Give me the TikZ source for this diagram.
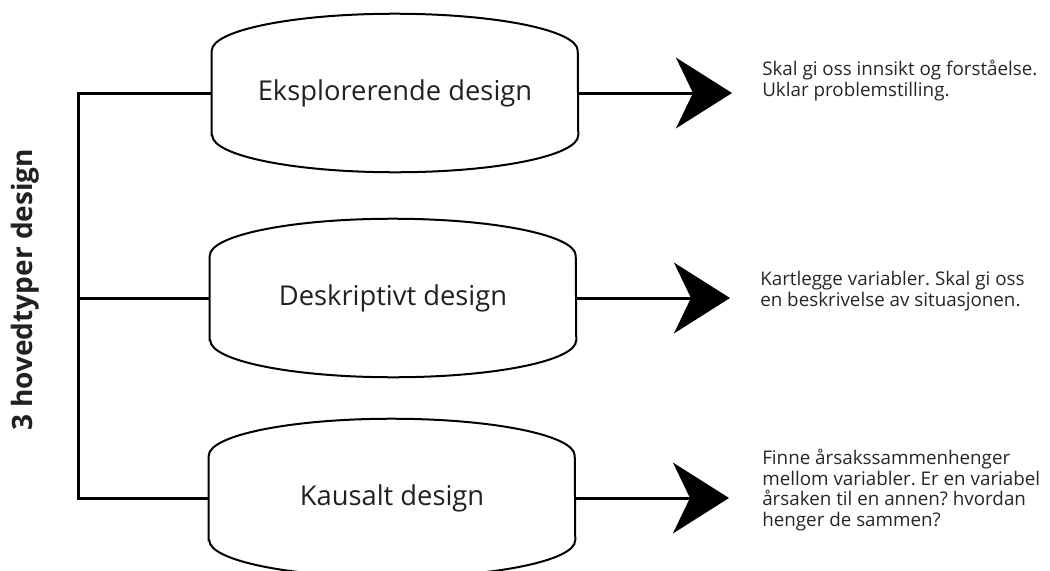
\documentclass[tikz,border=0pt]{standalone}
\usepackage{fontspec}
\setmainfont{Open Sans}
\frenchspacing
\usetikzlibrary{arrows.meta}
\begin{document}
\begin{tikzpicture}[x=0.75pt,y=-0.75pt,
  design/.style={minimum width=274.5pt, minimum height=63pt, inner sep=0pt,
    font=\fontsize{20.5}{24}\selectfont, text=black!87},
  outline/.style={line width=1.5pt},
  link/.style={line width=2.25pt},
  pointer/.style={line width=2.25pt, -{Stealth[length=42pt,width=53pt,inset=12.75pt]}},
  note/.style={anchor=north west, align=left, inner sep=0pt,
    font=\fontsize{14.1}{15.5}\selectfont, text=black!85},
]
\useasboundingbox (0,0) rectangle (1050,571);

% the three design types
\node[design] (expl) at (395,93)  {Eksplorerende design};
\node[design] (desk) at (393,298) {Deskriptivt design};
\node[design] (kaus) at (392,498) {Kausalt design};

% barrel outlines: straight sides, elliptical top and bottom
\foreach \n in {expl,desk,kaus}
  \draw[outline] (\n.south west) -- (\n.north west)
    arc[start angle=180, end angle=360, x radius=183, y radius=37]
    -- (\n.south east)
    arc[start angle=0, end angle=180, x radius=183, y radius=37] -- cycle;

% left bracket joining the three types
\coordinate (spine) at (78,298);
\draw[link] (expl.west) -| (spine) |- (kaus.west);
\draw[link] (desk.west) -- (spine);

% vertical heading
\node[rotate=90, font=\bfseries\fontsize{21}{24}\selectfont, text=black!87] (title) at (25,290) {3 hovedtyper design};

% arrow tips
\coordinate (t1) at (732,93);
\coordinate (t2) at (730,298);
\coordinate (t3) at (729,498);
\draw[pointer] (expl.east) -- (t1);
\draw[pointer] (desk.east) -- (t2);
\draw[pointer] (kaus.east) -- (t3);

% descriptions
\node[note] (n1) at (762,60)  {Skal gi oss innsikt og forståelse.\\Uklar problemstilling.};
\node[note] (n2) at (760,271) {Kartlegge variabler. Skal gi oss\\en beskrivelse av situasjonen.};
\node[note] (n3) at (762,449) {Finne årsakssammenhenger\\mellom variabler. Er en variabel\\årsaken til en annen? hvordan\\henger de sammen?};
\end{tikzpicture}
\end{document}
